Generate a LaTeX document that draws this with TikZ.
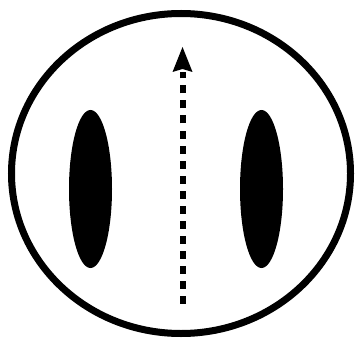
\documentclass[tikz,border=0pt]{standalone}
\begin{document}
\begin{tikzpicture}[x=1pt,y=-1pt,
  rim/.style={line width=7pt},
  blob/.style={fill=black},
  dotline/.style={line width=6pt, dash pattern=on 8pt off 7pt}]
\useasboundingbox (0,0) rectangle (355,339);
\draw[rim] (181,173.5) ellipse [x radius=169.5pt, y radius=160pt];
\fill[blob] (90.5,189) ellipse [x radius=21.5pt, y radius=79pt];
\fill[blob] (261.5,189) ellipse [x radius=21.5pt, y radius=79pt];
\coordinate (base) at (182.5,303.5);
\coordinate (neck) at (182.5,72);
\coordinate (tip) at (182.5,47);
\draw[dotline] (base) -- (neck);
\fill (tip) -- (172.5,72) -- (182.5,69) -- (192.5,72) -- cycle;
\end{tikzpicture}
\end{document}
